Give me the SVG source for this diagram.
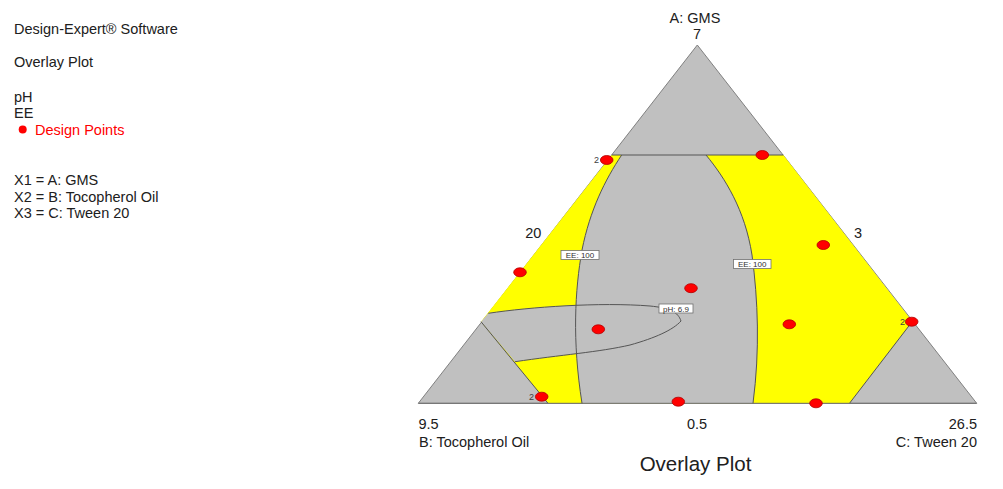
<svg xmlns="http://www.w3.org/2000/svg" width="1003" height="489" viewBox="0 0 1003 489">
<style>
text{font-family:"Liberation Sans",Arial,sans-serif;fill:#202020}
.lt{font-size:14.5px}
.ax{font-size:14.5px}
.gray{fill:#C0C0C0}
.yel{fill:#FFFF00}
.ln{fill:none;stroke:#555555;stroke-width:1}
.pt{fill:#FF0000;stroke:#B00000;stroke-width:0.8}
.cnt{font-size:9px;fill:#404040}
.lbbox{fill:#FFFFFF;stroke:#707070;stroke-width:0.8}
.lbt{font-size:8px;fill:#303030}
</style>
<rect width="1003" height="489" fill="#FFFFFF"/>
<g id="legend">
<text class="lt" x="14" y="34">Design-Expert® Software</text>
<text class="lt" x="14" y="67">Overlay Plot</text>
<text class="lt" x="14" y="101.5">pH</text>
<text class="lt" x="14" y="117.5">EE</text>
<ellipse class="pt" cx="22.7" cy="129.5" rx="4" ry="4" style="stroke:none"/>
<text class="lt" x="35" y="135" style="fill:#FF0000">Design Points</text>
<text class="lt" x="14" y="185">X1 = A: GMS</text>
<text class="lt" x="14" y="201.5">X2 = B: Tocopherol Oil</text>
<text class="lt" x="14" y="218">X3 = C: Tween 20</text>
</g>
<g id="plot">
<polygon id="outer" points="697.3,45 976.7,403.3 418.3,403.3" fill="#C0C0C0" stroke="#808080" stroke-width="1"/>
<polygon id="feasible" class="yel" points="611.7,155 783.3,155 912.3,321.5 849.5,403.3 548,403.3 481,321.7"/>
<path id="ee-region" class="gray" d="M621.7,155 L706,155 C725,178 745,210 752,255 C758,300 760,350 753,403.3 L582,403.3 C572,340 575,290 582,250 C590,210 605,180 621.7,155 Z"/>
<path id="ph-region" class="gray" d="M488.3,313.3 C530,307 600,302 650,306 C670,308 678,312 681,321 C673,330 655,338 630,345 C600,352 560,355 515,361.7 L481,321.7 Z"/>
</g>
<g id="connectors">
<line class="ln" x1="611.7" y1="155" x2="783.3" y2="155"/>
<line class="ln" x1="912.3" y1="321.5" x2="849.5" y2="403.3"/>
<line class="ln" x1="481" y1="321.7" x2="548" y2="403.3"/>
<line class="ln" x1="418.3" y1="403.3" x2="976.7" y2="403.3" style="stroke:#707070"/>
<path class="ln" d="M621.7,155 C605,180 590,210 582,250 C575,290 572,340 582,403.3"/>
<path class="ln" d="M706,155 C725,178 745,210 752,255 C758,300 760,350 753,403.3"/>
<path class="ln" d="M488.3,313.3 C530,307 600,302 650,306 C670,308 678,312 681,321 C673,330 655,338 630,345 C600,352 560,355 515,361.7"/>
</g>
<g id="contour-labels">
<rect class="lbbox" x="561" y="250.5" width="38" height="9"/>
<text class="lbt" x="580" y="258" text-anchor="middle">EE: 100</text>
<rect class="lbbox" x="733.5" y="259.5" width="37.5" height="9"/>
<text class="lbt" x="752.2" y="267" text-anchor="middle">EE: 100</text>
<rect class="lbbox" x="659" y="304" width="34" height="9"/>
<text class="lbt" x="676" y="311.5" text-anchor="middle">pH: 6.9</text>
</g>
<g id="design-points">
<ellipse class="pt" cx="606.7" cy="160" rx="6.3" ry="4.5"/>
<ellipse class="pt" cx="762.3" cy="155" rx="6.3" ry="4.5"/>
<ellipse class="pt" cx="823.3" cy="245" rx="6.3" ry="4.5"/>
<ellipse class="pt" cx="520" cy="272.3" rx="6.3" ry="4.5"/>
<ellipse class="pt" cx="691" cy="288.2" rx="6.3" ry="4.5"/>
<ellipse class="pt" cx="598.3" cy="329.3" rx="6.3" ry="4.5"/>
<ellipse class="pt" cx="789.3" cy="324.3" rx="6.3" ry="4.5"/>
<ellipse class="pt" cx="911.7" cy="321.7" rx="6.3" ry="4.5"/>
<ellipse class="pt" cx="541.7" cy="396.7" rx="6.3" ry="4.5"/>
<ellipse class="pt" cx="678.3" cy="401.7" rx="6.3" ry="4.5"/>
<ellipse class="pt" cx="816" cy="403.3" rx="6.3" ry="4.5"/>
<text class="cnt" x="599" y="163" text-anchor="end">2</text>
<text class="cnt" x="905" y="325" text-anchor="end">2</text>
<text class="cnt" x="534" y="400" text-anchor="end">2</text>
</g>
<g id="axis-labels">
<text class="ax" x="695" y="22.7" text-anchor="middle">A: GMS</text>
<text class="ax" x="697" y="38.5" text-anchor="middle">7</text>
<text class="ax" x="533.3" y="238.3" text-anchor="middle">20</text>
<text class="ax" x="858" y="237.7" text-anchor="middle">3</text>
<text class="ax" x="418.5" y="429">9.5</text>
<text class="ax" x="697" y="429" text-anchor="middle">0.5</text>
<text class="ax" x="977" y="429" text-anchor="end">26.5</text>
<text class="ax" x="419" y="447">B: Tocopherol Oil</text>
<text class="ax" x="977" y="447" text-anchor="end">C: Tween 20</text>
<text x="695.5" y="471" text-anchor="middle" style="font-size:20.5px">Overlay Plot</text>
</g>
</svg>
